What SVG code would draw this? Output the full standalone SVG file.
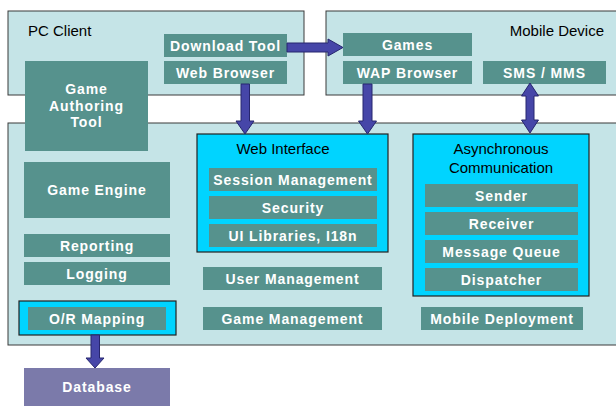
<svg xmlns="http://www.w3.org/2000/svg" width="616" height="406" viewBox="0 0 616 406">
  <style>
    .zone { fill: #c5e4e7; stroke: #3a3a3a; stroke-width: 1; }
    .hub { fill: #00d4ff; stroke: #222; stroke-width: 1.2; }
    .mod { fill: #56928d; }
    .db { fill: #7b7aaa; }
    .t { font-family: "Liberation Sans", Arial, sans-serif; font-weight: bold; font-size: 14px; fill: #ffffff; letter-spacing: 0.9px; text-anchor: middle; }
    .h { font-family: "Liberation Sans", Arial, sans-serif; font-size: 15px; fill: #000000; }
    .arrow { fill: #4646a8; stroke: #26266e; stroke-width: 1; stroke-linejoin: miter; }
  </style>

  <!-- containers -->
  <g id="pc-client">
    <rect class="zone" x="8" y="11" width="296" height="84"/>
    <text class="h" x="28" y="36">PC Client</text>
  </g>
  <g id="mobile-device">
    <rect class="zone" x="326" y="11" width="300" height="84"/>
    <text class="h" x="604" y="36" text-anchor="end">Mobile Device</text>
  </g>
  <g id="server">
    <rect class="zone" x="8" y="123" width="622" height="222"/>
  </g>

  <!-- client side modules -->
  <g id="game-authoring-tool">
    <rect class="mod" x="25" y="61" width="123" height="90"/>
    <text class="t" x="86.5" y="94">Game</text>
    <text class="t" x="86.5" y="111">Authoring</text>
    <text class="t" x="86.5" y="127">Tool</text>
  </g>
  <g id="download-tool">
    <rect class="mod" x="164" y="34" width="123" height="23"/>
    <text class="t" x="225.5" y="50.5">Download Tool</text>
  </g>
  <g id="web-browser">
    <rect class="mod" x="164" y="61" width="123" height="23"/>
    <text class="t" x="225.5" y="77.5">Web Browser</text>
  </g>
  <g id="games">
    <rect class="mod" x="343" y="33" width="129" height="23"/>
    <text class="t" x="407.5" y="49.5">Games</text>
  </g>
  <g id="wap-browser">
    <rect class="mod" x="343" y="61" width="129" height="23"/>
    <text class="t" x="407.5" y="77.5">WAP Browser</text>
  </g>
  <g id="sms-mms">
    <rect class="mod" x="483" y="61" width="123" height="23"/>
    <text class="t" x="544.5" y="77.5">SMS / MMS</text>
  </g>

  <!-- server left column -->
  <g id="game-engine">
    <rect class="mod" x="24" y="162" width="146" height="56"/>
    <text class="t" x="97" y="195">Game Engine</text>
  </g>
  <g id="reporting">
    <rect class="mod" x="24" y="234" width="146" height="23"/>
    <text class="t" x="97" y="250.5">Reporting</text>
  </g>
  <g id="logging">
    <rect class="mod" x="24" y="262" width="146" height="23"/>
    <text class="t" x="97" y="278.5">Logging</text>
  </g>
  <g id="or-mapping">
    <rect class="hub" x="19" y="301" width="157" height="34"/>
    <rect class="mod" x="28" y="307" width="138" height="23"/>
    <text class="t" x="97" y="323.5">O/R Mapping</text>
  </g>

  <!-- web interface -->
  <g id="web-interface">
    <rect class="hub" x="197" y="134" width="191" height="118"/>
    <text class="h" x="283" y="154" text-anchor="middle">Web Interface</text>
  </g>
  <g id="session-management">
    <rect class="mod" x="209" y="168" width="168" height="23"/>
    <text class="t" x="293" y="184.5">Session Management</text>
  </g>
  <g id="security">
    <rect class="mod" x="209" y="196" width="168" height="23"/>
    <text class="t" x="293" y="212.5">Security</text>
  </g>
  <g id="ui-libraries">
    <rect class="mod" x="209" y="224" width="168" height="23"/>
    <text class="t" x="293" y="240.5">UI Libraries, I18n</text>
  </g>
  <g id="user-management">
    <rect class="mod" x="203" y="267" width="179" height="23"/>
    <text class="t" x="292.5" y="283.5">User Management</text>
  </g>
  <g id="game-management">
    <rect class="mod" x="203" y="307" width="179" height="23"/>
    <text class="t" x="292.5" y="323.5">Game Management</text>
  </g>

  <!-- asynchronous communication -->
  <g id="async-communication">
    <rect class="hub" x="413" y="134" width="176" height="162"/>
    <text class="h" x="501" y="154" text-anchor="middle">Asynchronous</text>
    <text class="h" x="501" y="173" text-anchor="middle">Communication</text>
  </g>
  <g id="sender">
    <rect class="mod" x="425" y="184" width="153" height="23"/>
    <text class="t" x="501.5" y="200.5">Sender</text>
  </g>
  <g id="receiver">
    <rect class="mod" x="425" y="212" width="153" height="23"/>
    <text class="t" x="501.5" y="228.5">Receiver</text>
  </g>
  <g id="message-queue">
    <rect class="mod" x="425" y="240" width="153" height="23"/>
    <text class="t" x="501.5" y="256.5">Message Queue</text>
  </g>
  <g id="dispatcher">
    <rect class="mod" x="425" y="268" width="153" height="23"/>
    <text class="t" x="501.5" y="284.5">Dispatcher</text>
  </g>
  <g id="mobile-deployment">
    <rect class="mod" x="421" y="307" width="162" height="23"/>
    <text class="t" x="502" y="323.5">Mobile Deployment</text>
  </g>

  <!-- storage -->
  <g id="database">
    <rect class="db" x="24" y="368" width="146" height="40"/>
    <text class="t" x="97" y="392">Database</text>
  </g>

  <!-- connectors -->
  <g id="connectors">
    <polygon class="arrow" points="287,43 328,43 328,39 343,47.5 328,56 328,52 287,52"/>
    <polygon class="arrow" points="241,84 249.5,84 249.5,121 254,121 245,134 236,121 241,121"/>
    <polygon class="arrow" points="363,84 372,84 372,121 376.5,121 367.5,134 358.5,121 363,121"/>
    <polygon class="arrow" points="530,83 538.5,96 534,96 534,120 538.5,120 530,133 521.5,120 526,120 526,96 521.5,96"/>
    <polygon class="arrow" points="91,335 99.5,335 99.5,358 104,358 95,368 86,358 91,358"/>
  </g>
</svg>
